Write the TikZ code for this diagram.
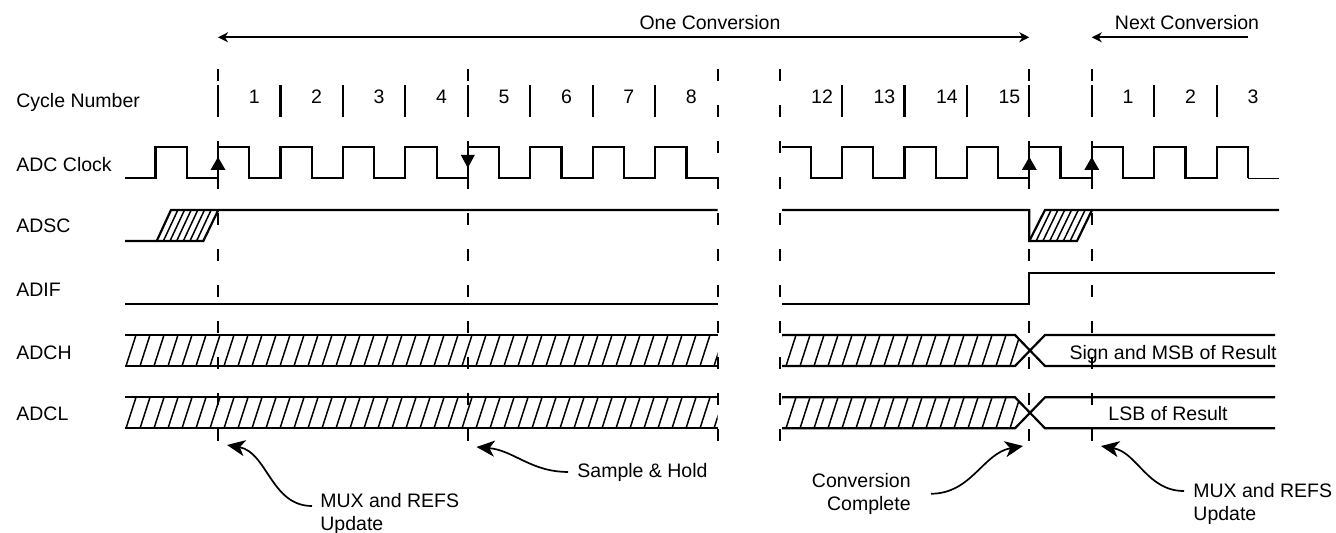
\documentclass[tikz,border=0pt]{standalone}
\usepackage{fontspec}
\setmainfont{Liberation Sans}
\usetikzlibrary{arrows.meta}

\begin{document}
\begin{tikzpicture}[
  x=0.5pt, y=-0.5pt,
  font=\fontsize{9.75}{11.25}\selectfont,
  lbl/.style={anchor=base west, inner sep=0pt},
  num/.style={anchor=base, inner sep=0pt},
  note/.style={inner sep=0pt, align=left, anchor=north west},
  sig/.style={line width=1.1pt},
  hatchln/.style={line width=0.75pt},
  guide/.style={line width=1pt, dash pattern=on 6pt off 12pt},
  tickln/.style={line width=1.1pt},
  span/.style={line width=0.9pt, {Stealth[length=5pt, width=5pt, inset=1.5pt]}-{Stealth[length=5pt, width=5pt, inset=1.5pt]}},
  spanl/.style={line width=0.9pt, -{Stealth[length=5pt, width=5pt, inset=1.5pt]}},
  callout/.style={line width=0.85pt, -{Stealth[length=9pt, width=8pt, inset=2.5pt]}}
]
\useasboundingbox (0,0) rectangle (1336,533);

% row labels
\node[lbl] (lcyc)  at (16,108)   {Cycle Number};
\node[lbl] (lclk)  at (16,171.7) {ADC Clock};
\node[lbl] (ladsc) at (16,233)   {ADSC};
\node[lbl] (ladif) at (16,296.7) {ADIF};
\node[lbl] (ladch) at (16,360)   {ADCH};
\node[lbl] (ladcl) at (16,421)   {ADCL};

% conversion spans
\node[num] (onec)  at (710,29.3) {One Conversion};
\node[num] (nextc) at (1187,30)  {Next Conversion};
\coordinate (os) at (218,37.3);
\coordinate (oe) at (1029.3,37.3);
\coordinate (ns) at (1091.75,37.3);
\coordinate (ne) at (1248,37.3);
\draw[span]  (os) -- (oe);
\draw[spanl] (ne) -- (ns);

% dashed guides and cycle ticks
\foreach \gx in {218,467.8,717.6,779.5,1029.3,1091.75}
  \draw[guide] (\gx,69) -- (\gx,441);
\foreach \tx in {218,280.45,...,655.2,841.95,904.4,...,1217}
  \draw[tickln] (\tx,85) -- (\tx,117);
\foreach \gx in {218,467.8,1029.3,1091.75}
  \draw[tickln] (\gx,142) -- (\gx,189);

% cycle numbers
\foreach \n [count=\i from 0] in {1,...,8}
  \node[num] (cl\n) at ({254.2+\i*62.45},104) {\n};
\foreach \n [count=\i from 0] in {12,...,15}
  \node[num] (cr\n) at ({822+\i*62.45},104) {\n};
\foreach \n [count=\i from 0] in {1,2,3}
  \node[num] (cn\n) at ({1128+\i*62.45},104) {\n};

% ADC clock
\draw[sig] (125,178.3) foreach \k in {0,...,8} {
  -| ({155.55+\k*62.45},146.7) -| ({186.8+\k*62.45},178.3) } -- (717.6,178.3);
\draw[sig] (782,146.7) foreach \k in {0,...,6} {
  -| ({810.7+\k*62.45},178.3) -| ({841.95+\k*62.45},146.7) } -| (1247.85,178.3);
\draw[line width=0.6pt] (1247.85,178.3) -- (1279,178.3);
\foreach \ex in {218,1029.3,1091.75}
  \fill (\ex,157) -- ++(-7.5,13) -- ++(15,0) -- cycle;
\fill (467.8,168) -- ++(-7,-13) -- ++(14,0) -- cycle;

% ADSC
\draw[sig] (125,241) -- (156.7,241) -- (171,210) -- (717.6,210);
\draw[sig] (156.7,241) -- (203.3,241) -- (218.3,210);
\begin{scope}
  \clip (156.7,241) -- (171,210) -- (218.3,210) -- (203.3,241) -- cycle;
  \foreach \hx in {163.35,170,...,197}
    \draw[hatchln] (\hx,241) -- ++(14.5,-31);
\end{scope}
\draw[sig] (782,210) -- (1029.3,210) -- (1029.3,241) -- (1077,241) -- (1092,210) -- (1279,210);
\draw[sig] (1029.3,241) -- (1045,210) -- (1092,210);
\begin{scope}
  \clip (1029.3,241) -- (1045,210) -- (1092,210) -- (1077,241) -- cycle;
  \foreach \hx in {1036.1,1042.9,...,1071}
    \draw[hatchln] (\hx,241) -- ++(15,-31);
\end{scope}

% ADIF
\draw[sig] (125,304) -- (717.6,304);
\draw[sig] (782,304) -- (1029.3,304) -- (1029.3,272.7) -- (1275,272.7);

% ADCH, ADCL
\foreach \yt in {335,397.3} {
  \draw[sig] (125,\yt) -- (717.6,\yt) (125,{\yt+31}) -- (717.6,{\yt+31});
  \draw[sig] (782,\yt) -- (1015,\yt) -- (1045,{\yt+31}) -- (1275,{\yt+31});
  \draw[sig] (782,{\yt+31}) -- (1015,{\yt+31}) -- (1045,\yt) -- (1275,\yt);
  \begin{scope}
    \clip (125,\yt) rectangle (717.6,{\yt+31});
    \foreach \hx in {112,126,...,720}
      \draw[hatchln] (\hx,{\yt+31}) -- ++(10,-31);
  \end{scope}
  \begin{scope}
    \clip (782,\yt) -- (1015,\yt) -- (1030,{\yt+15.5}) -- (1015,{\yt+31}) -- (782,{\yt+31}) -- cycle;
    \foreach \hx in {772,786,...,1030}
      \draw[hatchln] (\hx,{\yt+31}) -- ++(10,-31);
  \end{scope}
}
\node[num] (msb) at (1173,360) {Sign and MSB of Result};
\node[num] (lsb) at (1168,421) {LSB of Result};

% callouts
\node[note] (lmux) at (320,493) {MUX and REFS\\Update};
\node[num, anchor=base west] (samp) at (577,477) {Sample \& Hold};
\node[note, align=right, anchor=north east] (conv) at (911,473) {Conversion\\Complete};
\node[note] (rmux) at (1193,483) {MUX and REFS\\Update};
\coordinate (tmux1) at (227,445);
\coordinate (tsamp) at (476.5,447);
\coordinate (tconv) at (1023,446);
\coordinate (tmux2) at (1101,446);
\draw[callout] ([xshift=-4pt,yshift=-6.5pt]lmux.north west) to[out=180,in=-10] (tmux1);
\draw[callout] ([xshift=-4.5pt]samp.west) to[out=180,in=-5] (tsamp);
\draw[callout] ([xshift=10pt]conv.east) to[out=0,in=190] (tconv);
\draw[callout] ([xshift=-4.5pt,yshift=-4pt]rmux.north west) to[out=180,in=-10] (tmux2);
\end{tikzpicture}
\end{document}
